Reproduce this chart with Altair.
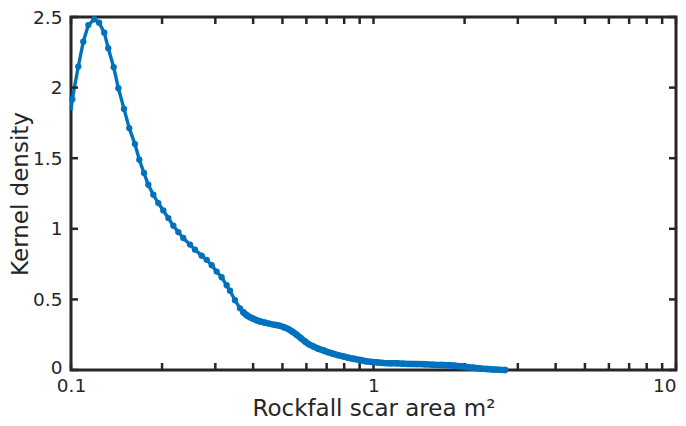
import altair as alt
import pandas as pd

# Kernel density curve (x = rockfall scar area m², y = density)
x_vals = [0.1000, 0.1010, 0.1057, 0.1098, 0.1141, 0.1194, 0.1238, 0.1288, 0.1328, 0.1384,
          0.1434, 0.1497, 0.1558, 0.1627, 0.1682, 0.1743, 0.1801, 0.1871, 0.1944, 0.2019,
          0.2098, 0.2179, 0.2263, 0.2350, 0.2474, 0.2570, 0.2704, 0.2809, 0.2918, 0.3031,
          0.3148, 0.3271, 0.3354, 0.3484, 0.3620, 0.3712, 0.3809, 0.3906, 0.4005, 0.4111,
          0.4215, 0.4378, 0.4548, 0.4725, 0.4908, 0.5060, 0.5228, 0.5398, 0.5573, 0.5758,
          0.5937, 0.6120, 0.6324, 0.6554, 0.6825, 0.7073, 0.7364, 0.7631, 0.7947, 0.8236,
          0.8575, 0.9023, 0.9445, 0.9886, 1.035, 1.078, 1.134, 1.193, 1.252, 1.321,
          1.390, 1.480, 1.577, 1.681, 1.790, 1.860, 1.932, 2.033, 2.138, 2.249,
          2.367, 2.489, 2.619, 2.721]
y_vals = [1.840, 1.918, 2.149, 2.325, 2.443, 2.484, 2.460, 2.389, 2.279, 2.144,
          1.996, 1.849, 1.713, 1.600, 1.489, 1.395, 1.312, 1.241, 1.182, 1.130,
          1.076, 1.022, 0.977, 0.935, 0.888, 0.852, 0.810, 0.780, 0.742, 0.697,
          0.657, 0.600, 0.561, 0.494, 0.437, 0.409, 0.388, 0.373, 0.363, 0.352,
          0.344, 0.335, 0.327, 0.320, 0.313, 0.303, 0.290, 0.271, 0.250, 0.225,
          0.202, 0.182, 0.167, 0.151, 0.139, 0.126, 0.115, 0.105, 0.096, 0.087,
          0.080, 0.071, 0.062, 0.057, 0.053, 0.050, 0.048, 0.047, 0.045, 0.043,
          0.042, 0.040, 0.037, 0.036, 0.034, 0.030, 0.027, 0.021, 0.016, 0.011,
          0.007, 0.004, 0.001, 0.000]

x_tick_vals = [0.1, 0.2, 0.3, 0.4, 0.5, 0.6, 0.7, 0.8, 0.9, 1,
               2, 3, 4, 5, 6, 7, 8, 9, 10]
x_label_vals = [0.1, 1, 10]
y_tick_vals = [0, 0.5, 1, 1.5, 2, 2.5]

x_title = "Rockfall scar area m²"
y_title = "Kernel density"

W, H = 605, 353
BLUE = "#0072BD"
AX = "#262626"
TL = 7

df = pd.DataFrame({"x": x_vals, "y": y_vals})
xt = pd.DataFrame({"x": x_tick_vals})
yt = pd.DataFrame({"y": y_tick_vals})

xscale = alt.Scale(type="log", domain=[0.1, 10], nice=False)
yscale = alt.Scale(domain=[0, 2.5], nice=False, zero=False)

line = alt.Chart(df).mark_line(color=BLUE, strokeWidth=3.4).encode(
    x=alt.X("x:Q", scale=xscale, title=x_title,
            axis=alt.Axis(values=x_label_vals, ticks=False, domain=False, grid=False,
                          labelExpr="datum.value < 0.5 ? '0.1' : (datum.value < 5 ? '1' : '10')",
                          labelAlign={"condition": {"test": "datum.value > 5", "value": "right"},
                                      "value": "center"},
                          labelFlush=False, labelOverlap=False,
                          labelPadding=6, titlePadding=3)),
    y=alt.Y("y:Q", scale=yscale, title=y_title,
            axis=alt.Axis(values=y_tick_vals, ticks=False, domain=False, grid=False,
                          format="~g", labelPadding=9,
                          labelOffset={"condition": {"test": "datum.value == 0", "value": -3},
                                       "value": 0},
                          titlePadding=0)),
)

# dense markers in the tail merge into a thick band in the reference
band = alt.Chart(df).transform_filter("datum.x > 0.37").mark_line(
    color=BLUE, strokeWidth=6.5, strokeCap="round", strokeJoin="round").encode(
    x=alt.X("x:Q", scale=xscale),
    y=alt.Y("y:Q", scale=yscale),
)

pts = alt.Chart(df).transform_filter("datum.x > 0.1005").mark_circle(
    color=BLUE, size=40, opacity=1).encode(
    x=alt.X("x:Q", scale=xscale),
    y=alt.Y("y:Q", scale=yscale),
)

tick_style = dict(color=AX, strokeWidth=2.5)
bottom_ticks = alt.Chart(xt).mark_rule(**tick_style).encode(
    x=alt.X("x:Q", scale=xscale), y=alt.value(H), y2=alt.value(H - TL))
top_ticks = alt.Chart(xt).mark_rule(**tick_style).encode(
    x=alt.X("x:Q", scale=xscale), y=alt.value(0), y2=alt.value(TL))
left_ticks = alt.Chart(yt).mark_rule(**tick_style).encode(
    y=alt.Y("y:Q", scale=yscale), x=alt.value(0), x2=alt.value(TL))
right_ticks = alt.Chart(yt).mark_rule(**tick_style).encode(
    y=alt.Y("y:Q", scale=yscale), x=alt.value(W), x2=alt.value(W - TL))

chart = alt.layer(line, bottom_ticks, top_ticks, left_ticks, right_ticks, band, pts).properties(
    width=W, height=H,
    background="white",
    autosize=alt.AutoSizeParams(type="none"),
    padding={"left": 63, "top": 9, "right": 2, "bottom": 56},
).configure_view(
    stroke=AX, strokeWidth=3, fill="white"
).configure_axis(
    labelFont="DejaVu Sans", labelFontSize=18.5, labelColor=AX,
    titleFont="DejaVu Sans", titleFontSize=23, titleFontWeight="normal", titleColor=AX,
)

chart.save("out.html", embed_options={"renderer": "svg", "actions": False})
